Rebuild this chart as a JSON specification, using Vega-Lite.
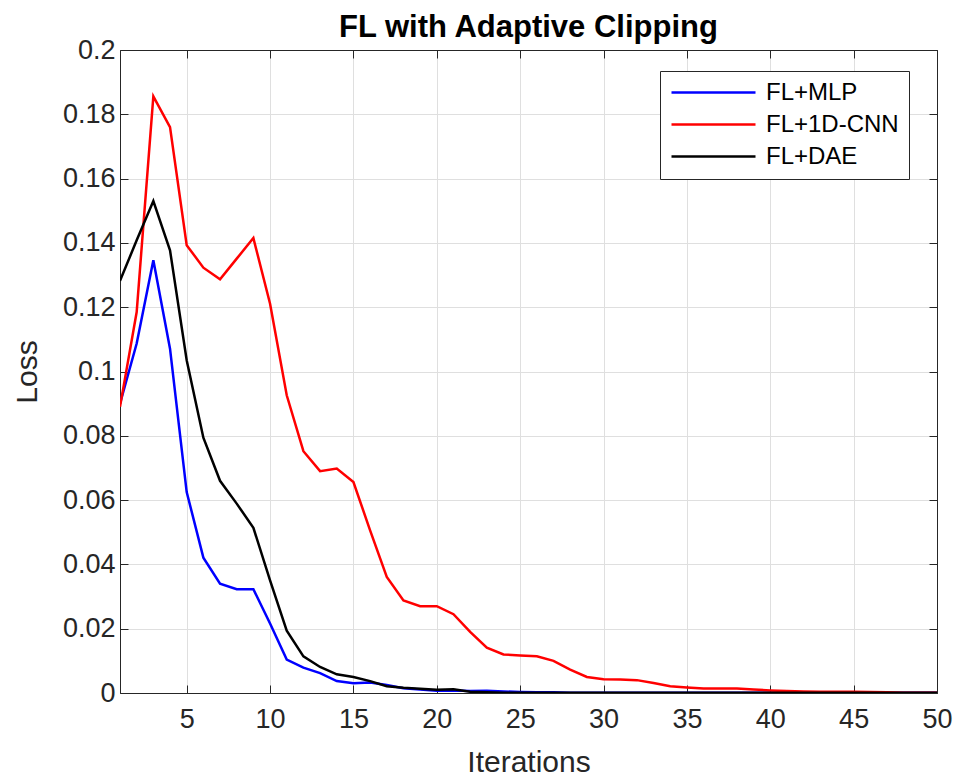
{
  "$schema": "https://vega.github.io/schema/vega-lite/v6.json",
  "autosize": "none",
  "padding": {"left": 120, "top": 50, "right": 19, "bottom": 83},
  "width": 817,
  "height": 643,
  "background": "white",
  "title": {"text": "FL with Adaptive Clipping", "font": "Liberation Sans", "fontSize": 31, "fontWeight": "bold", "color": "#000000", "anchor": "middle", "offset": -8},
  "data": {"values": [
    {"iter": 1, "FL+MLP": 0.0900, "FL+1D-CNN": 0.0890, "FL+DAE": 0.1282},
    {"iter": 2, "FL+MLP": 0.1087, "FL+1D-CNN": 0.1185, "FL+DAE": 0.1408},
    {"iter": 3, "FL+MLP": 0.1346, "FL+1D-CNN": 0.1856, "FL+DAE": 0.1530},
    {"iter": 4, "FL+MLP": 0.1071, "FL+1D-CNN": 0.1760, "FL+DAE": 0.1377},
    {"iter": 5, "FL+MLP": 0.0625, "FL+1D-CNN": 0.1393, "FL+DAE": 0.1035},
    {"iter": 6, "FL+MLP": 0.0421, "FL+1D-CNN": 0.1323, "FL+DAE": 0.0794},
    {"iter": 7, "FL+MLP": 0.0340, "FL+1D-CNN": 0.1287, "FL+DAE": 0.0660},
    {"iter": 8, "FL+MLP": 0.0323, "FL+1D-CNN": 0.1351, "FL+DAE": 0.0589},
    {"iter": 9, "FL+MLP": 0.0323, "FL+1D-CNN": 0.1415, "FL+DAE": 0.0514},
    {"iter": 10, "FL+MLP": 0.0216, "FL+1D-CNN": 0.1211, "FL+DAE": 0.0350},
    {"iter": 11, "FL+MLP": 0.0104, "FL+1D-CNN": 0.0926, "FL+DAE": 0.0194},
    {"iter": 12, "FL+MLP": 0.0079, "FL+1D-CNN": 0.0752, "FL+DAE": 0.0114},
    {"iter": 13, "FL+MLP": 0.0062, "FL+1D-CNN": 0.0690, "FL+DAE": 0.0081},
    {"iter": 14, "FL+MLP": 0.0037, "FL+1D-CNN": 0.0698, "FL+DAE": 0.0058},
    {"iter": 15, "FL+MLP": 0.0030, "FL+1D-CNN": 0.0656, "FL+DAE": 0.0050},
    {"iter": 16, "FL+MLP": 0.0033, "FL+1D-CNN": 0.0506, "FL+DAE": 0.0037},
    {"iter": 17, "FL+MLP": 0.0025, "FL+1D-CNN": 0.0361, "FL+DAE": 0.0021},
    {"iter": 18, "FL+MLP": 0.0015, "FL+1D-CNN": 0.0288, "FL+DAE": 0.0016},
    {"iter": 19, "FL+MLP": 0.0011, "FL+1D-CNN": 0.0270, "FL+DAE": 0.0013},
    {"iter": 20, "FL+MLP": 0.0007, "FL+1D-CNN": 0.0270, "FL+DAE": 0.0010},
    {"iter": 21, "FL+MLP": 0.0008, "FL+1D-CNN": 0.0245, "FL+DAE": 0.0012},
    {"iter": 22, "FL+MLP": 0.0006, "FL+1D-CNN": 0.0190, "FL+DAE": 0.0004},
    {"iter": 23, "FL+MLP": 0.0007, "FL+1D-CNN": 0.0141, "FL+DAE": 0.0002},
    {"iter": 24, "FL+MLP": 0.0005, "FL+1D-CNN": 0.0120, "FL+DAE": 0.0001},
    {"iter": 25, "FL+MLP": 0.0003, "FL+1D-CNN": 0.0117, "FL+DAE": 0.0001},
    {"iter": 26, "FL+MLP": 0.0002, "FL+1D-CNN": 0.0114, "FL+DAE": 0.0001},
    {"iter": 27, "FL+MLP": 0.0002, "FL+1D-CNN": 0.0100, "FL+DAE": 0.0001},
    {"iter": 28, "FL+MLP": 0.0001, "FL+1D-CNN": 0.0073, "FL+DAE": 0.0001},
    {"iter": 29, "FL+MLP": 0.0001, "FL+1D-CNN": 0.0050, "FL+DAE": 0.0001},
    {"iter": 30, "FL+MLP": 0.0001, "FL+1D-CNN": 0.0043, "FL+DAE": 0.0001},
    {"iter": 31, "FL+MLP": 0.0001, "FL+1D-CNN": 0.0042, "FL+DAE": 0.0001},
    {"iter": 32, "FL+MLP": 0.0001, "FL+1D-CNN": 0.0040, "FL+DAE": 0.0001},
    {"iter": 33, "FL+MLP": 0.0001, "FL+1D-CNN": 0.0031, "FL+DAE": 0.0001},
    {"iter": 34, "FL+MLP": 0.0001, "FL+1D-CNN": 0.0021, "FL+DAE": 0.0001},
    {"iter": 35, "FL+MLP": 0.0001, "FL+1D-CNN": 0.0017, "FL+DAE": 0.0001},
    {"iter": 36, "FL+MLP": 0.0001, "FL+1D-CNN": 0.0014, "FL+DAE": 0.0001},
    {"iter": 37, "FL+MLP": 0.0001, "FL+1D-CNN": 0.0014, "FL+DAE": 0.0001},
    {"iter": 38, "FL+MLP": 0.0001, "FL+1D-CNN": 0.0014, "FL+DAE": 0.0001},
    {"iter": 39, "FL+MLP": 0.0001, "FL+1D-CNN": 0.0011, "FL+DAE": 0.0001},
    {"iter": 40, "FL+MLP": 0.0001, "FL+1D-CNN": 0.0008, "FL+DAE": 0.0001},
    {"iter": 41, "FL+MLP": 0.0001, "FL+1D-CNN": 0.0006, "FL+DAE": 0.0001},
    {"iter": 42, "FL+MLP": 0.0001, "FL+1D-CNN": 0.0005, "FL+DAE": 0.0001},
    {"iter": 43, "FL+MLP": 0.0001, "FL+1D-CNN": 0.0004, "FL+DAE": 0.0001},
    {"iter": 44, "FL+MLP": 0.0001, "FL+1D-CNN": 0.0004, "FL+DAE": 0.0001},
    {"iter": 45, "FL+MLP": 0.0001, "FL+1D-CNN": 0.0004, "FL+DAE": 0.0001},
    {"iter": 46, "FL+MLP": 0.0001, "FL+1D-CNN": 0.0003, "FL+DAE": 0.0001},
    {"iter": 47, "FL+MLP": 0.0001, "FL+1D-CNN": 0.0002, "FL+DAE": 0.0001},
    {"iter": 48, "FL+MLP": 0.0001, "FL+1D-CNN": 0.0001, "FL+DAE": 0.0001},
    {"iter": 49, "FL+MLP": 0.0001, "FL+1D-CNN": 0.0001, "FL+DAE": 0.0001},
    {"iter": 50, "FL+MLP": 0.0001, "FL+1D-CNN": 0.0001, "FL+DAE": 0.0001}
  ]},
  "transform": [{"fold": ["FL+MLP", "FL+1D-CNN", "FL+DAE"], "as": ["model", "loss"]}],
  "layer": [
    {
      "mark": {"type": "line", "strokeWidth": 2.5, "clip": true},
      "encoding": {
        "x": {"field": "iter", "type": "quantitative",
          "scale": {"domain": [1, 50], "nice": false, "zero": false},
          "axis": {"orient": "bottom", "values": [5, 10, 15, 20, 25, 30, 35, 40, 45, 50], "title": "Iterations",
            "labelFont": "Liberation Sans", "labelFontSize": 27, "labelColor": "#262626",
            "titleFont": "Liberation Sans", "titleFontSize": 30, "titleFontWeight": "normal", "titleColor": "#262626",
            "domainColor": "#262626", "tickColor": "#262626", "tickSize": -8, "labelPadding": 21, "titlePadding": 15,
            "grid": true, "gridColor": "#dfdfdf", "gridWidth": 1, "labelFlush": false}},
        "y": {"field": "loss", "type": "quantitative",
          "scale": {"domain": [0, 0.2], "nice": false},
          "axis": {"orient": "left", "values": [0, 0.02, 0.04, 0.06, 0.08, 0.1, 0.12, 0.14, 0.16, 0.18, 0.2], "format": "~g", "title": "Loss",
            "labelFont": "Liberation Sans", "labelFontSize": 27, "labelColor": "#262626",
            "titleFont": "Liberation Sans", "titleFontSize": 30, "titleFontWeight": "normal", "titleColor": "#262626",
            "domainColor": "#262626", "tickColor": "#262626", "tickSize": -8, "labelPadding": 13, "titlePadding": 20,
            "grid": true, "gridColor": "#dfdfdf", "gridWidth": 1, "labelFlush": false}},
        "color": {"field": "model", "type": "nominal",
          "scale": {"domain": ["FL+MLP", "FL+1D-CNN", "FL+DAE"], "range": ["#0000ff", "#ff0000", "#000000"]},
          "legend": {"orient": "none", "legendX": 540, "legendY": 21, "title": null,
            "strokeColor": "#262626", "fillColor": "white", "padding": 10,
            "symbolType": "stroke", "symbolSize": 7056, "symbolStrokeWidth": 2.5,
            "labelFont": "Liberation Sans", "labelFontSize": 24, "labelColor": "#000000", "labelOffset": 9,
            "clipHeight": 23, "rowPadding": 7, "labelLimit": 400}},
        "order": {"field": "iter", "type": "quantitative"}
      }
    },
    {
      "mark": {"type": "line", "opacity": 0},
      "encoding": {
        "x": {"field": "iter", "type": "quantitative",
          "axis": {"orient": "top", "values": [5, 10, 15, 20, 25, 30, 35, 40, 45, 50], "labels": false, "title": null, "grid": false,
            "domainColor": "#262626", "tickColor": "#262626", "tickSize": -8}},
        "y": {"field": "loss", "type": "quantitative",
          "axis": {"orient": "right", "values": [0, 0.02, 0.04, 0.06, 0.08, 0.1, 0.12, 0.14, 0.16, 0.18, 0.2], "labels": false, "title": null, "grid": false,
            "domainColor": "#262626", "tickColor": "#262626", "tickSize": -8}},
        "detail": {"field": "model", "type": "nominal"}
      }
    }
  ],
  "resolve": {"axis": {"x": "independent", "y": "independent"}},
  "config": {"view": {"stroke": "#262626", "strokeWidth": 1}}
}
